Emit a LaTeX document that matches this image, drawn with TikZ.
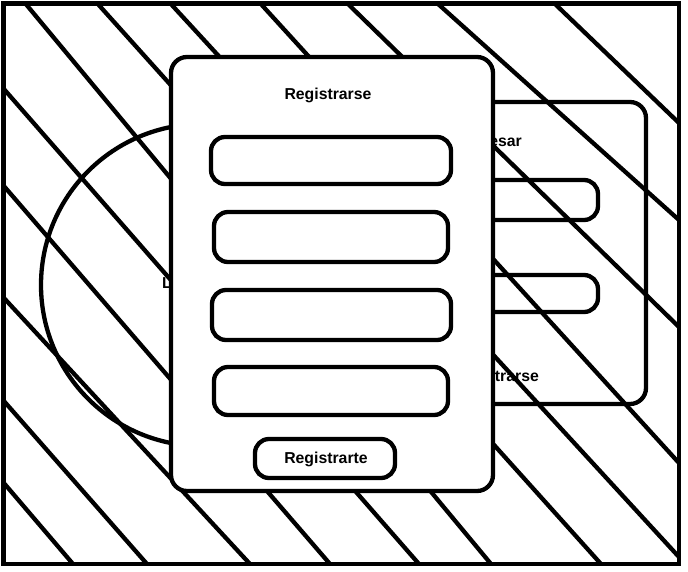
\documentclass[tikz,border=0pt]{standalone}
\usepackage{fontspec}
\setmainfont{Liberation Sans}

\begin{document}
\begin{tikzpicture}[x=1pt,y=-1pt,line width=4.3pt,
  panel/.style={draw,rounded corners=16pt,inner sep=0pt},
  campo/.style={draw,rounded corners=14pt,inner sep=0pt},
  texto/.style={inner sep=0pt,font=\fontsize{15.8}{18}\selectfont\bfseries}]
  \useasboundingbox (0,0) rectangle (688,571);
  % hatching behind everything
  \foreach \xa/\ya/\xb/\yb in {3/482/73/564, 3/400/147/564, 3/297/250/564,
      3/185/330/564, 3/88/419/564, 25/3/491/564, 97/3/601/564,
      170/3/679/557, 260/3/679/463, 347/3/679/327, 437/3/679/220,
      554/3/679/123}
    \draw (\xa,\ya) -- (\xb,\yb);
  \draw (3.5,3.5) rectangle (679,564);
  % logo circle
  \draw (202,285) circle[radius=161pt];
  \node[texto,anchor=base west] (logo) at (160,288) {Logo};
  % login panel (behind)
  \node[panel,minimum width=306pt,minimum height=302pt] (ingreso) at (493,253) {};
  \node[campo,minimum width=206pt,minimum height=40pt] (usuario) at (495,200) {};
  \node[campo,minimum width=206pt,minimum height=37pt] (clave) at (495,293.5) {};
  \node[texto,anchor=base east] (ingresar) at (524,146.7) {Ingresar};
  \node[texto,anchor=base east] (enlace) at (541,381.5) {Registrarse};
  % sign-up panel (front)
  \node[panel,fill=white,minimum width=322pt,minimum height=434pt] (registro) at (332,274) {};
  \node[texto,anchor=base] (titulo) at (328,99.5) {Registrarse};
  \node[campo,minimum width=240pt,minimum height=47pt] (campo1) at (331,160.5) {};
  \node[campo,minimum width=234pt,minimum height=50pt] (campo2) at (331,237) {};
  \node[campo,minimum width=239pt,minimum height=50pt] (campo3) at (331.5,315) {};
  \node[campo,minimum width=234pt,minimum height=48pt] (campo4) at (331,391) {};
  \node[campo,minimum width=140pt,minimum height=39pt] (boton) at (325,458.5) {};
  \node[texto,anchor=base] (registrarte) at (326,463) {Registrarte};
\end{tikzpicture}
\end{document}
